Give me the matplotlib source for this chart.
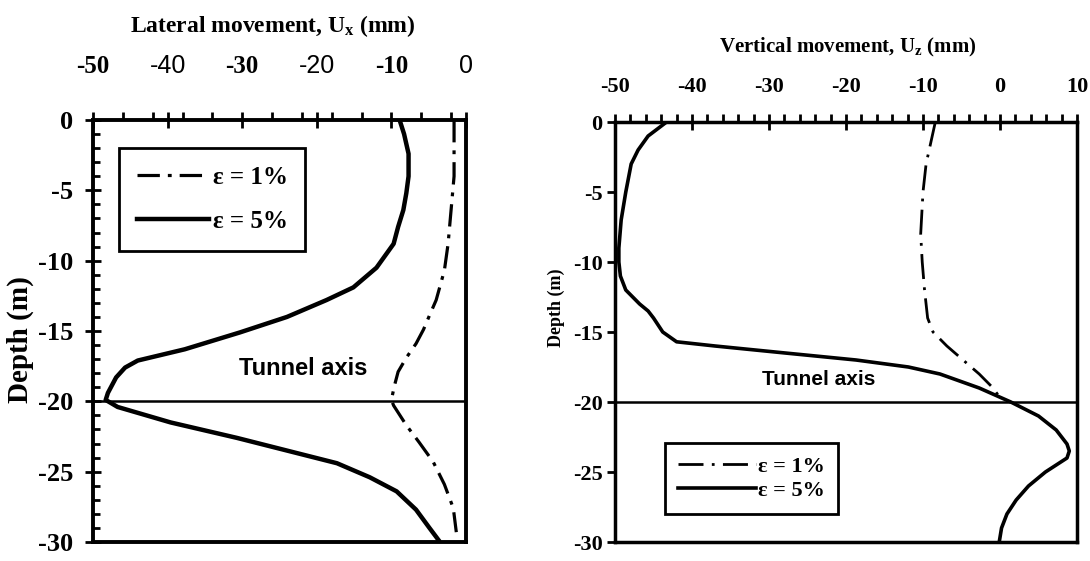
import matplotlib
matplotlib.use('Agg')
import matplotlib.pyplot as plt
import numpy as np

# lateral movement Ux (mm) vs depth (m)
lat_depth_5 = [0, -1, -2.4, -4, -5.2, -6.4, -7.6, -8.8, -10.5, -11.9, -12.8, -14.0, -15.1,
               -16.3, -17.1, -17.6, -18.3, -19.4, -19.9, -20.4, -21.5, -22.6, -23.5, -24.4,
               -25.4, -26.4, -27.7, -29.0, -29.85]
lat_u_5 = [-8.9, -8.3, -7.7, -7.7, -8.0, -8.4, -9.1, -9.7, -12, -15.1, -18.7, -24, -30.3,
           -37.7, -44, -45.7, -46.9, -48, -48.3, -46.7, -39.6, -30.7, -24, -17.3, -12.9,
           -9.3, -6.7, -4.9, -3.7]
lat_depth_1 = [0, -4, -6.4, -8.8, -10.7, -12.8, -13.9, -14.9, -15.9, -16.9, -17.9, -18.9,
               -19.9, -20.3, -21.7, -22.9, -24.3, -25.9, -27.6, -29.3]
lat_u_1 = [-1.6, -1.6, -2.0, -2.4, -2.9, -4.0, -4.9, -5.7, -6.7, -8.0, -9.1, -9.6, -10.0,
           -9.7, -8.0, -6.3, -4.4, -2.9, -1.7, -1.3]

# vertical movement Uz (mm) vs depth (m)
ver_depth_5 = [0, -1, -2, -3, -5, -7, -9, -10, -11, -12, -13, -13.5, -14, -15, -15.7, -16,
               -16.5, -17, -17.5, -18, -19, -20, -21, -22, -23, -23.5, -24, -25, -26, -27,
               -28, -29, -30]
ver_u_5 = [-43.3, -45.7, -47, -47.9, -48.6, -49.2, -49.5, -49.5, -49.3, -48.6, -46.8, -45.7,
           -45, -43.8, -42, -37, -27.9, -18.7, -11.9, -7.8, -2.7, 1.4, 5.0, 7.3, 8.7, 9.0,
           8.7, 5.9, 3.7, 2.1, 0.9, 0.2, -0.1]
ver_depth_1 = [0, -3, -5, -8, -10, -12, -14, -15, -16, -17, -18, -19, -19.7]
ver_u_1 = [-8.4, -9.6, -10, -10.3, -10.1, -9.8, -9.4, -8.7, -6.9, -4.8, -2.7, -0.9, 0]

lat_ticks = [-50, -40, -30, -20, -10, 0]
ver_ticks = [-50, -40, -30, -20, -10, 0, 10]
depth_ticks = [0, -5, -10, -15, -20, -25, -30]
labels = ['ε = 1%', 'ε = 5%']

plt.rcParams['font.family'] = ['Liberation Serif', 'DejaVu Serif']
plt.rcParams['font.weight'] = 'bold'
plt.rcParams['mathtext.fontset'] = 'custom'
plt.rcParams['mathtext.rm'] = 'Liberation Serif:bold'
plt.rcParams['mathtext.it'] = 'Liberation Serif:bold'
plt.rcParams['mathtext.default'] = 'regular'

fig = plt.figure(figsize=(10.9, 5.61), dpi=100)
ax1 = fig.add_axes([93/1090, 19/561, 373/1090, 422/561])
ax2 = fig.add_axes([615/1090, 19/561, 462/1090, 420/561])

# ---- left panel
ax1.plot(lat_u_1, lat_depth_1, color='k', lw=2.3, ls=(0, (7, 2.5, 1.2, 2.5)), label=labels[0])
ax1.plot(lat_u_5, lat_depth_5, color='k', lw=3.2, label=labels[1])
ax1.axhline(-20, color='k', lw=1.8)
ax1.text(-21.8, -17.7, 'Tunnel axis', ha='center', va='center', fontsize=17,
         family=['Liberation Sans Narrow', 'Liberation Sans'], fontweight='bold')
ax1.set_xlim(-50, 0)
ax1.set_ylim(-30, 0)
ax1.xaxis.tick_top()
ax1.set_xticks(lat_ticks)
ax1.set_xticklabels([str(t) for t in lat_ticks], fontsize=18)
ax1.set_xticks(np.arange(-46, 0, 4), minor=True)
ax1.set_yticks(depth_ticks)
ax1.set_yticklabels([str(t) for t in depth_ticks], fontsize=19)
ax1.set_yticks(np.arange(-29, 0, 1), minor=True)
ax1.tick_params(axis='x', which='major', direction='inout', length=12, width=2, pad=24)
ax1.tick_params(axis='x', which='minor', direction='out', length=6, width=2)
ax1.tick_params(axis='y', which='major', direction='inout', length=12, width=2, pad=8)
ax1.tick_params(axis='y', which='minor', direction='in', length=5, width=2)
for lab in ax1.get_xticklabels():
    if lab.get_text() in ('-40', '-20', '0'):
        lab.set_family('Liberation Sans')
        lab.set_fontweight('normal')
for s in ax1.spines.values():
    s.set_linewidth(2.8)
leg1 = ax1.legend(loc='upper left', bbox_to_anchor=(0.07, 0.933), borderaxespad=0,
                  fontsize=18, handlelength=2.9, handletextpad=0.15, labelspacing=0.85,
                  borderpad=0.7, fancybox=False, edgecolor='k', framealpha=1)
leg1.get_frame().set_linewidth(2)
fig.text(273/1090, 1 - 26/561, 'Lateral movement, U$_x$ (mm)', ha='center', va='center',
         fontsize=17)
fig.text(20/1090, 1 - 340/561, 'Depth (m)', ha='center', va='center', rotation=90,
         fontsize=21)

# ---- right panel
ax2.plot(ver_u_1, ver_depth_1, color='k', lw=2.0, ls=(0, (9, 3, 1, 3)), label=labels[0])
ax2.plot(ver_u_5, ver_depth_5, color='k', lw=2.6, label=labels[1])
ax2.axhline(-20, color='k', lw=1.8)
ax2.text(-23.5, -18.4, 'Tunnel axis', ha='center', va='center', fontsize=15,
         family=['Liberation Sans Narrow', 'Liberation Sans'], fontweight='bold')
ax2.set_xlim(-50, 10)
ax2.set_ylim(-30, 0)
ax2.xaxis.tick_top()
ax2.set_xticks(ver_ticks)
ax2.set_xticklabels([str(t) for t in ver_ticks], fontsize=16)
ax2.set_xticks(np.arange(-48, 10, 2), minor=True)
ax2.set_yticks(depth_ticks)
ax2.set_yticklabels([str(t) for t in depth_ticks], fontsize=16)
ax2.tick_params(axis='x', which='major', direction='inout', length=12, width=2, pad=12)
ax2.tick_params(axis='x', which='minor', direction='out', length=6, width=2)
ax2.tick_params(axis='y', which='major', direction='out', length=6, width=2, pad=3)
for s in ax2.spines.values():
    s.set_linewidth(2.5)
leg2 = ax2.legend(loc='upper left', bbox_to_anchor=(0.108, 0.236), borderaxespad=0,
                  fontsize=16, handlelength=3.5, handletextpad=0.1, labelspacing=0.15,
                  borderpad=0.6, fancybox=False, edgecolor='k', framealpha=1)
leg2.get_frame().set_linewidth(2)
fig.text(848/1090, 1 - 47/561, 'Vertical movement, U$_z$ (mm)', ha='center', va='center',
         fontsize=15)
fig.text(556/1090, 1 - 308/561, 'Depth (m)', ha='center', va='center', rotation=90,
         fontsize=13)

fig.savefig('out.png', dpi=100)
